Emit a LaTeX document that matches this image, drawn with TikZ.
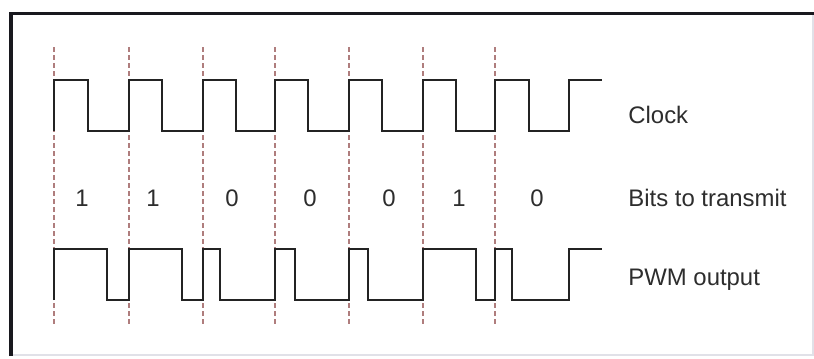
\documentclass[tikz,border=0pt]{standalone}
\usepackage{fontspec}
\setmainfont{Liberation Sans}
\usepackage{xcolor}
\usepackage{tikz}
\usetikzlibrary{positioning}
\definecolor{framedark}{RGB}{24,24,30}
\definecolor{framelight}{RGB}{225,225,232}
\definecolor{tickred}{RGB}{175,125,125}
\definecolor{wavecol}{RGB}{35,35,35}
\definecolor{txtcol}{RGB}{45,45,45}

\begin{document}
\begin{tikzpicture}[
  x=0.5bp, y=-0.5bp,
  wave/.style={draw=wavecol, line width=1.1bp, line join=miter},
  clockmark/.style={draw=tickred, line width=0.6bp, dash pattern=on 2.5bp off 1.5bp},
  bitlabel/.style={font=\fontsize{12}{14}\selectfont, text=txtcol, inner sep=0pt},
  rowlabel/.style={font=\fontsize{12}{14}\selectfont, text=txtcol, anchor=west, inner sep=0pt},
]
\useasboundingbox (0,0) rectangle (814,358);
\fill[white] (0,0) rectangle (814,358);

% ===== Frame =====
\draw[framelight, line width=1bp] (11,355) -- (813,355) -- (813,14);
\draw[framedark, line width=1.6bp] (11,356) -- (11,13.5) -- (814,13.5);

% ===== Clock edges (dashed) =====
\draw[clockmark] (54,47) -- (54,327);
\draw[clockmark] (129,47) -- (129,327);
\draw[clockmark] (203,47) -- (203,327);
\draw[clockmark] (275,47) -- (275,327);
\draw[clockmark] (349,47) -- (349,327);
\draw[clockmark] (423,47) -- (423,327);
\draw[clockmark] (495,47) -- (495,327);

% ===== Clock =====
\draw[wave] (54,131) -- (54,80) -- (88,80) -- (88,131) -- (129,131)
  -- (129,80) -- (162,80) -- (162,131) -- (203,131)
  -- (203,80) -- (236,80) -- (236,131) -- (275,131)
  -- (275,80) -- (308,80) -- (308,131) -- (349,131)
  -- (349,80) -- (382,80) -- (382,131) -- (423,131)
  -- (423,80) -- (456,80) -- (456,131) -- (495,131)
  -- (495,80) -- (529,80) -- (529,131) -- (569,131)
  -- (569,80) -- (602,80);

% ===== Bits =====
\node[bitlabel] (bitA) at (82,198) {1};
\node[bitlabel] (bitB) at (153,198) {1};
\node[bitlabel] (bitC) at (232,198) {0};
\node[bitlabel] (bitD) at (310,198) {0};
\node[bitlabel] (bitE) at (389,198) {0};
\node[bitlabel] (bitF) at (459,198) {1};
\node[bitlabel] (bitG) at (537,198) {0};

% ===== PWM output =====
\draw[wave] (54,300) -- (54,249) -- (107,249) -- (107,300) -- (129,300)
  -- (129,249) -- (182,249) -- (182,300) -- (203,300)
  -- (203,249) -- (220,249) -- (220,300) -- (275,300)
  -- (275,249) -- (295,249) -- (295,300) -- (349,300)
  -- (349,249) -- (368,249) -- (368,300) -- (423,300)
  -- (423,249) -- (476,249) -- (476,300) -- (495,300)
  -- (495,249) -- (512,249) -- (512,300) -- (569,300)
  -- (569,249) -- (602,249);

% ===== Row labels =====
\node[rowlabel] (clocklbl) at (628,115) {Clock};
\node[rowlabel] (bitslbl) at (628,198) {Bits to transmit};
\node[rowlabel] (pwmlbl) at (628,280) {PWM output};

\end{tikzpicture}
\end{document}
